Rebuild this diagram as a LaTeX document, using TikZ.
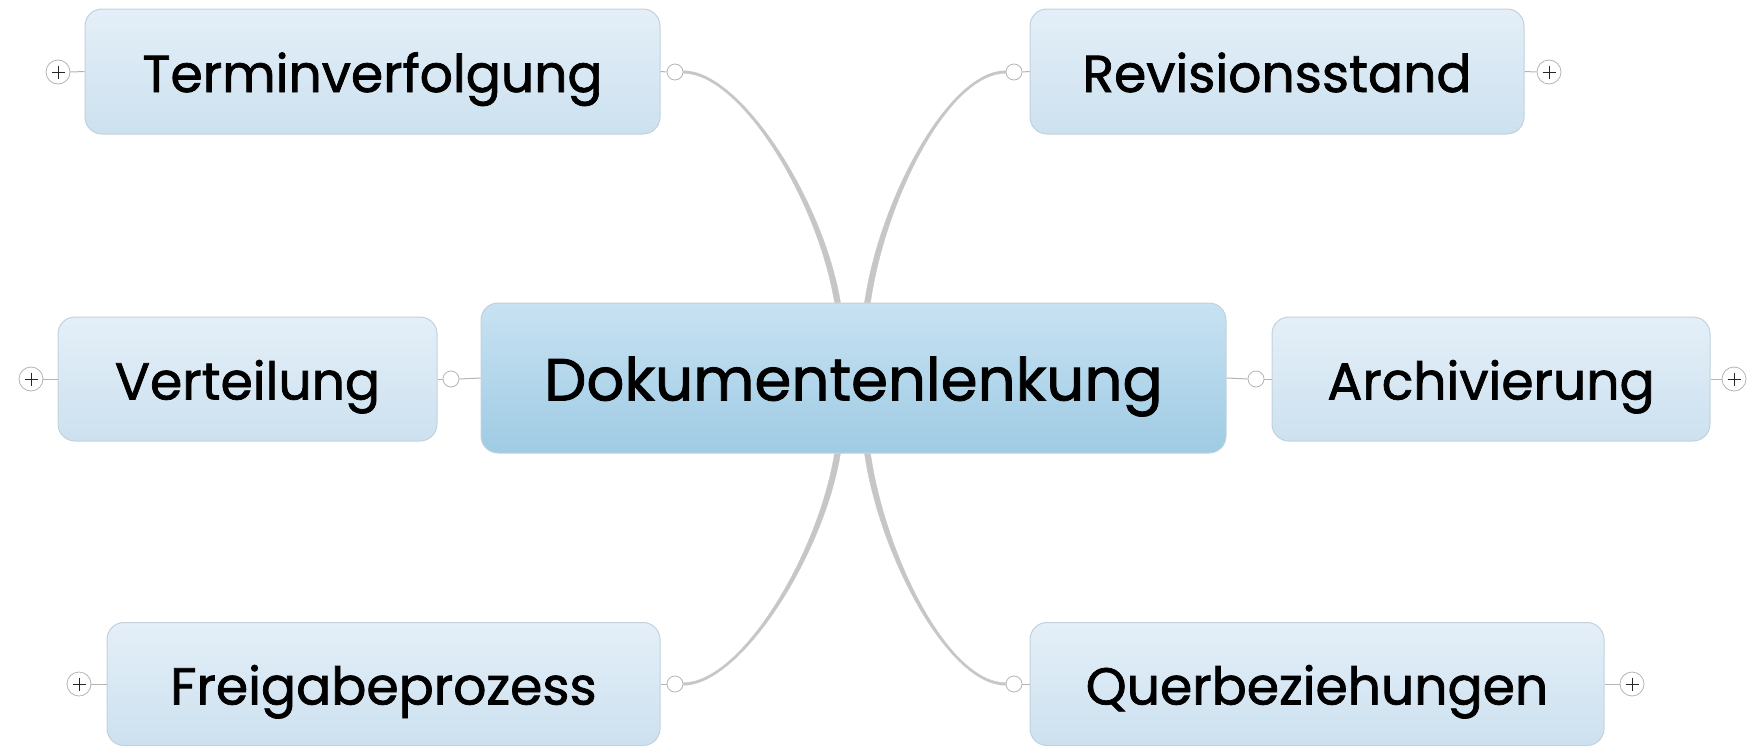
\documentclass[tikz,border=0pt]{standalone}
\usepackage{fontspec}
\newfontfamily\topicfont{Poppins}[FakeBold=1.4]
\usetikzlibrary{calc}
\definecolor{boxtop}{HTML}{E4EFF8}
\definecolor{boxbot}{HTML}{CCE1EF}
\definecolor{midtop}{HTML}{C8E2F2}
\definecolor{midbot}{HTML}{9FCBE4}
\definecolor{boxline}{HTML}{C2D1DB}
\definecolor{conn}{HTML}{C6C6C6}
\definecolor{knob}{HTML}{B4B4B4}
\tikzset{
  topic/.style={draw=boxline, line width=1pt, rounded corners=17pt, top color=boxtop, bottom color=boxbot,
    inner sep=0pt, font=\topicfont\fontsize{52}{58}\selectfont, text=black, text height=41pt, text depth=0pt},
  maintopic/.style={topic, top color=midtop, bottom color=midbot, font=\topicfont\fontsize{59.5}{66}\selectfont,
    text height=45pt, text depth=0pt},
  plusknob/.style={circle, draw=knob, fill=white, line width=0.8pt, minimum size=24pt, inner sep=0pt},
  openknob/.style={circle, draw=knob, fill=white, line width=0.8pt, minimum size=16pt, inner sep=0pt},
  branch/.style={fill=conn, draw=conn, line width=0.3pt},
  stub/.style={draw=knob, line width=1pt},
}
\newcommand{\plussign}[1]{\draw[black!85, line width=0.9pt] ($(#1)+(-6.5,0)$) -- ($(#1)+(6.5,0)$) ($(#1)+(0,-6.5)$) -- ($(#1)+(0,6.5)$);}
\begin{document}
\begin{tikzpicture}[x=1pt, y=-1pt]
\useasboundingbox (0,0) rectangle (1755,747);
% nodes
\node[maintopic, minimum width=745pt, minimum height=150pt] (D) at (853.5,378) {Dokumentenlenkung};
\node[topic, minimum width=575pt, minimum height=125pt] (T) at (372.5,71.5) {Terminverfolgung};
\node[topic, minimum width=494pt, minimum height=125pt] (R) at (1277,71.5) {Revisionsstand};
\node[topic, minimum width=379pt, minimum height=124pt] (V) at (247.5,379) {Verteilung};
\node[topic, minimum width=438pt, minimum height=124pt] (A) at (1491,379) {Archivierung};
\node[topic, minimum width=553pt, minimum height=123pt] (F) at (383.5,684) {Freigabeprozess};
\node[topic, minimum width=574pt, minimum height=123pt] (Q) at (1317,684) {Querbeziehungen};
% plus knobs
\node[plusknob] (pT) at (58,72) {};
\node[plusknob] (pR) at (1549,72) {};
\node[plusknob] (pV) at (31,379) {};
\node[plusknob] (pA) at (1734,379) {};
\node[plusknob] (pF) at (79,684) {};
\node[plusknob] (pQ) at (1632,684) {};
% open knobs
\node[openknob] (oT) at (675,72) {};
\node[openknob] (oR) at (1014,72) {};
\node[openknob] (oV) at (451,379) {};
\node[openknob] (oA) at (1256,379) {};
\node[openknob] (oF) at (675,684) {};
\node[openknob] (oQ) at (1014,684) {};
% anchor points on central topic
\coordinate (dTL) at ($(D.north)+(-16,0)$);
\coordinate (dTR) at ($(D.north)+(14,0)$);
\coordinate (dBL) at ($(D.south)+(-16,0)$);
\coordinate (dBR) at ($(D.south)+(14,0)$);
% stubs
\draw[stub] (pT.east) -- (T.west);
\draw[stub] (pR.west) -- (R.east);
\draw[stub] (pV.east) -- (V.west);
\draw[stub] (pA.west) -- (A.east);
\draw[stub] (pF.east) -- (F.west);
\draw[stub] (pQ.west) -- (Q.east);
\draw[stub] (T.east) -- (oT.west);
\draw[stub] (R.west) -- (oR.east);
\draw[stub] (F.east) -- (oF.west);
\draw[stub] (Q.west) -- (oQ.east);
\draw[stub] (V.east) -- (oV.west);
\draw[stub] (oV.east) -- (D.west);
\draw[stub] (A.west) -- (oA.east);
\draw[stub] (oA.west) -- (D.east);
% tapered branches
\path[branch] ($(oT.east)+(0,-1.3)$) .. controls +(57,0) and +(-17,-103) .. ($(dTL)+(3,0)$)
  -- ($(dTL)+(-3,0)$) .. controls +(-17,-103) and +(57,0) .. ($(oT.east)+(0,1.3)$) -- cycle;
\path[branch] ($(oR.west)+(0,-1.3)$) .. controls +(-57,0) and +(15,-103) .. ($(dTR)+(-3,0)$)
  -- ($(dTR)+(3,0)$) .. controls +(15,-103) and +(-57,0) .. ($(oR.west)+(0,1.3)$) -- cycle;
\path[branch] ($(oF.east)+(0,-1.3)$) .. controls +(57,0) and +(-17,103) .. ($(dBL)+(-3,0)$)
  -- ($(dBL)+(3,0)$) .. controls +(-17,103) and +(57,0) .. ($(oF.east)+(0,1.3)$) -- cycle;
\path[branch] ($(oQ.west)+(0,-1.3)$) .. controls +(-57,0) and +(15,103) .. ($(dBR)+(3,0)$)
  -- ($(dBR)+(-3,0)$) .. controls +(15,103) and +(-57,0) .. ($(oQ.west)+(0,1.3)$) -- cycle;
% plus signs
\plussign{pT}\plussign{pR}\plussign{pV}\plussign{pA}\plussign{pF}\plussign{pQ}
\end{tikzpicture}
\end{document}
